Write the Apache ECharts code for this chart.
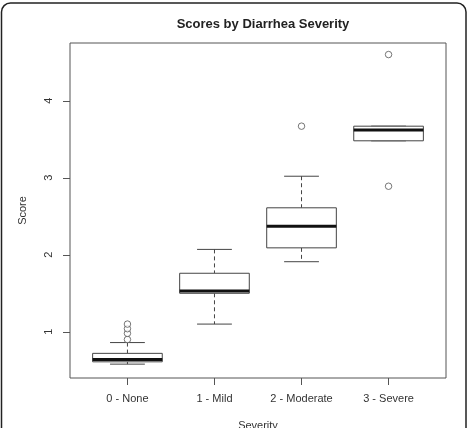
<!DOCTYPE html>
<html>
<head>
<meta charset="utf-8">
<script src="https://cdn.jsdelivr.net/npm/echarts@6/dist/echarts.min.js"></script>
<style>
	html, body { margin: 0; padding: 0; background: #fff; }
	#scoreBox { width: 469px; height: 428px; }
</style>
</head>
<body>
<div id="scoreBox"></div>
<script>
// 범주 (x축)
const categories = ["0 - None", "1 - Mild", "2 - Moderate", "3 - Severe"];
// 상자그림 통계값: 아래 수염, Q1, 중앙값, Q3, 위 수염
const lowWhisker = [0.58, 1.10, 1.91, 3.48];
const q1Values = [0.61, 1.50, 2.09, 3.48];
const medianValues = [0.64, 1.53, 2.37, 3.62];
const q3Values = [0.72, 1.76, 2.61, 3.67];
const highWhisker = [0.86, 2.07, 3.02, 3.67];
// 이상치: 범주 번호, 값
const outlierGroup = [1, 1, 1, 1, 3, 4, 4];
const outlierValue = [0.90, 0.98, 1.04, 1.10, 3.67, 2.89, 4.60];
// y축 눈금
const yTicks = [1, 2, 3, 4];

function severityChart() {
	let dom = document.getElementById("scoreBox");
	let myChart = echarts.init(dom, null, { renderer: "canvas" });

	const positions = categories.map((c, i) => i + 1);
	const boxData = positions.map((x, i) => [
		x, lowWhisker[i], q1Values[i], medianValues[i], q3Values[i], highWhisker[i],
	]);
	const outlierData = outlierGroup.map((g, i) => [g, outlierValue[i]]);

	const font = "'Liberation Sans', Arial, sans-serif";
	const lineColor = "#444";

	function renderBox(params, api) {
		const x = api.value(0);
		const halfBox = api.size([0.8, 0])[0] / 2; // R boxwex = 0.8
		const halfCap = halfBox / 2; // staplewex = 0.5
		const pLow = api.coord([x, api.value(1)]);
		const pQ1 = api.coord([x, api.value(2)]);
		const pMed = api.coord([x, api.value(3)]);
		const pQ3 = api.coord([x, api.value(4)]);
		const pHigh = api.coord([x, api.value(5)]);
		const cx = pMed[0];
		const solid = { stroke: lineColor, lineWidth: 1, fill: null };
		const dashed = { stroke: lineColor, lineWidth: 1, lineDash: [4, 3], fill: null };
		return {
			type: "group",
			children: [
				{ type: "line", shape: { x1: cx, y1: pHigh[1], x2: cx, y2: pQ3[1] }, style: dashed },
				{ type: "line", shape: { x1: cx, y1: pQ1[1], x2: cx, y2: pLow[1] }, style: dashed },
				{ type: "line", shape: { x1: cx - halfCap, y1: pHigh[1], x2: cx + halfCap, y2: pHigh[1] }, style: solid },
				{ type: "line", shape: { x1: cx - halfCap, y1: pLow[1], x2: cx + halfCap, y2: pLow[1] }, style: solid },
				{
					type: "rect",
					shape: { x: cx - halfBox, y: pQ3[1], width: halfBox * 2, height: pQ1[1] - pQ3[1] },
					style: { stroke: lineColor, lineWidth: 1, fill: "#fff" },
				},
				{
					type: "line",
					shape: { x1: cx - halfBox, y1: pMed[1], x2: cx + halfBox, y2: pMed[1] },
					style: { stroke: "#111", lineWidth: 3 },
				},
			],
		};
	}

	let option = {
		animation: false,
		backgroundColor: "#fff",
		title: {
			text: "Scores by Diarrhea Severity",
			left: 258,
			textAlign: "center",
			top: 13,
			textStyle: { fontFamily: font, fontSize: 13, fontWeight: "bold", color: "#222" },
		},
		graphic: [
			{
				type: "rect",
				shape: { x: 1.5, y: 3, width: 464.5, height: 460, r: 9 },
				style: { stroke: "#222", lineWidth: 1.5, fill: null },
				silent: true,
			},
		],
		grid: {
			left: 70,
			right: 23,
			top: 43,
			bottom: 50,
			outerBoundsMode: "none",
			containLabel: false,
			show: true,
			borderColor: "#555",
			borderWidth: 1,
			backgroundColor: "transparent",
		},
		xAxis: {
			type: "value",
			min: 0.34,
			max: 4.66,
			name: "Severity",
			nameLocation: "middle",
			nameGap: 42,
			nameTextStyle: { fontFamily: font, fontSize: 11, color: "#333" },
			axisLine: { show: false },
			splitLine: { show: false },
			axisTick: { show: true, length: 7, customValues: positions, lineStyle: { color: "#555" } },
			axisLabel: {
				customValues: positions,
				margin: 15,
				fontFamily: font,
				fontSize: 11,
				color: "#333",
				formatter: (v) => categories[Math.round(v) - 1] || "",
			},
		},
		yAxis: {
			type: "value",
			min: 0.40,
			max: 4.75,
			name: "Score",
			nameLocation: "middle",
			nameRotate: 90,
			nameGap: 42,
			nameTextStyle: { fontFamily: font, fontSize: 11, color: "#333" },
			axisLine: { show: false },
			splitLine: { show: false },
			axisTick: { show: true, length: 7, customValues: yTicks, lineStyle: { color: "#555" } },
			axisLabel: {
				customValues: yTicks,
				rotate: 90,
				margin: 16,
				fontFamily: font,
				fontSize: 11,
				color: "#333",
			},
		},
		series: [
			{
				name: "box",
				type: "custom",
				renderItem: renderBox,
				encode: { x: 0, y: [1, 2, 3, 4, 5] },
				data: boxData,
				z: 2,
			},
			{
				name: "outliers",
				type: "scatter",
				data: outlierData,
				symbol: "circle",
				symbolSize: 6.5,
				itemStyle: { color: "#fff", borderColor: "#555", borderWidth: 1 },
				z: 3,
			},
		],
	};

	if (option && typeof option === "object") {
		myChart.setOption(option);
	}

	window.addEventListener("resize", myChart.resize);
}

(function init() {
	severityChart();
})();
</script>
</body>
</html>
